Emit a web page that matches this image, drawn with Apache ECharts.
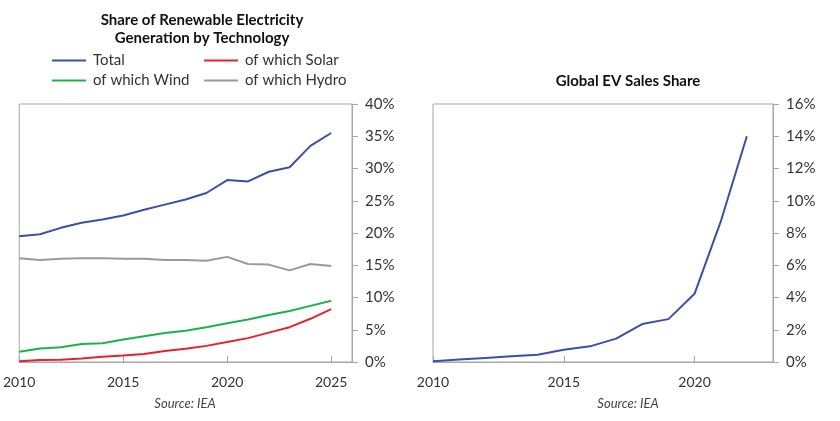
<!DOCTYPE html>
<html>
<head>
<meta charset="utf-8">
<script src="https://cdn.jsdelivr.net/npm/echarts@6/dist/echarts.min.js"></script>
<style>
  html, body { margin: 0; padding: 0; background: #fff; }
  #chart { width: 840px; height: 421px; }
</style>
</head>
<body>
<div id="chart"></div>
<script>
// renewables, share of electricity generation (%)
var renewYears = [2010, 2011, 2012, 2013, 2014, 2015, 2016, 2017, 2018, 2019, 2020, 2021, 2022, 2023, 2024, 2025];
var totalShare = [19.5, 19.8, 20.8, 21.6, 22.1, 22.7, 23.6, 24.4, 25.2, 26.2, 28.2, 28.0, 29.5, 30.2, 33.5, 35.5];
var solarShare = [0.1, 0.3, 0.35, 0.55, 0.8, 1.0, 1.25, 1.7, 2.05, 2.5, 3.1, 3.7, 4.55, 5.4, 6.7, 8.2];
var windShare = [1.6, 2.1, 2.3, 2.8, 2.9, 3.5, 4.0, 4.5, 4.85, 5.4, 6.0, 6.6, 7.3, 7.9, 8.7, 9.5];
var hydroShare = [16.1, 15.8, 16.0, 16.1, 16.1, 16.0, 16.0, 15.8, 15.8, 15.7, 16.3, 15.2, 15.1, 14.2, 15.2, 14.9];

// global EV sales share (%)
var evYears = [2010, 2011, 2012, 2013, 2014, 2015, 2016, 2017, 2018, 2019, 2020, 2021, 2022];
var evShare = [0.05, 0.15, 0.25, 0.35, 0.45, 0.76, 0.97, 1.45, 2.35, 2.66, 4.23, 8.7, 14.0];

var font = 'Lato, "Open Sans", sans-serif';
var grey = '#a6a6a6';

function pairs(xs, ys) {
    return xs.map(function (x, i) { return [x, ys[i]]; });
}

function legendAt(name, left, top) {
    return {
        data: [name], left: left, top: top, padding: 0,
        icon: 'rect', itemWidth: 34, itemHeight: 2, itemGap: 0,
        textStyle: { fontFamily: font, fontSize: 15, color: '#333', padding: [0, 0, 0, 2] },
        selectedMode: false
    };
}

function xAxisFor(idx, max) {
    return {
        type: 'value', gridIndex: idx, min: 2010, max: max, interval: 5,
        axisLine: { lineStyle: { color: grey } },
        axisTick: { show: true, inside: true, length: 6, lineStyle: { color: grey } },
        axisLabel: { showMaxLabel: false, margin: 13, color: '#333', fontFamily: font, fontSize: 14,
                     formatter: function (v) { return String(v); } },
        splitLine: { show: false }
    };
}

function yAxisFor(idx, max, step) {
    return {
        type: 'value', gridIndex: idx, position: 'right', min: 0, max: max, interval: step,
        axisLine: { show: true, lineStyle: { color: grey } },
        axisTick: { show: true, length: 6, lineStyle: { color: grey } },
        axisLabel: { margin: 13, color: '#333', fontFamily: font, fontSize: 15, formatter: '{value}%' },
        splitLine: { show: false }
    };
}

function lineSeries(name, xi, data, color) {
    return {
        name: name, type: 'line', xAxisIndex: xi, yAxisIndex: xi,
        data: data, symbol: 'none', animation: false,
        lineStyle: { color: color, width: 2 }, itemStyle: { color: color }
    };
}

var myChart = echarts.init(document.getElementById('chart'));

var option = {
    backgroundColor: '#fff',
    animation: false,
    title: [
        { text: 'Share of Renewable Electricity\nGeneration by Technology', left: 197, top: 6, textAlign: 'center',
          textStyle: { fontFamily: font, fontSize: 15, fontWeight: 'bold', color: '#111', lineHeight: 18 } },
        { text: 'Global EV Sales Share', left: 623, top: 69, textAlign: 'center',
          textStyle: { fontFamily: font, fontSize: 15, fontWeight: 'bold', color: '#111' } },
        { text: 'Source: IEA', left: 180, top: 392, textAlign: 'center',
          textStyle: { fontFamily: font, fontSize: 13, fontStyle: 'italic', fontWeight: 'normal', color: '#444' } },
        { text: 'Source: IEA', left: 623, top: 392, textAlign: 'center',
          textStyle: { fontFamily: font, fontSize: 13, fontStyle: 'italic', fontWeight: 'normal', color: '#444' } }
    ],
    legend: [
        legendAt('Total', 52, 53),
        legendAt('of which Solar', 204, 53),
        legendAt('of which Wind', 52, 73),
        legendAt('of which Hydro', 204, 73)
    ],
    grid: [
        { left: 13, top: 104, width: 339, height: 258, show: true, borderColor: grey, borderWidth: 1 },
        { left: 433, top: 104, width: 340, height: 258, show: true, borderColor: grey, borderWidth: 1 }
    ],
    xAxis: [xAxisFor(0, 2026), xAxisFor(1, 2023)],
    yAxis: [yAxisFor(0, 40, 5), yAxisFor(1, 16, 2)],
    series: [
        lineSeries('Total', 0, pairs(renewYears, totalShare), '#3b4fa8'),
        lineSeries('of which Solar', 0, pairs(renewYears, solarShare), '#e8222b'),
        lineSeries('of which Wind', 0, pairs(renewYears, windShare), '#1db14b'),
        lineSeries('of which Hydro', 0, pairs(renewYears, hydroShare), '#999999'),
        lineSeries('EV sales share', 1, pairs(evYears, evShare), '#3b4fa8')
    ]
};

myChart.setOption(option);
</script>
</body>
</html>
